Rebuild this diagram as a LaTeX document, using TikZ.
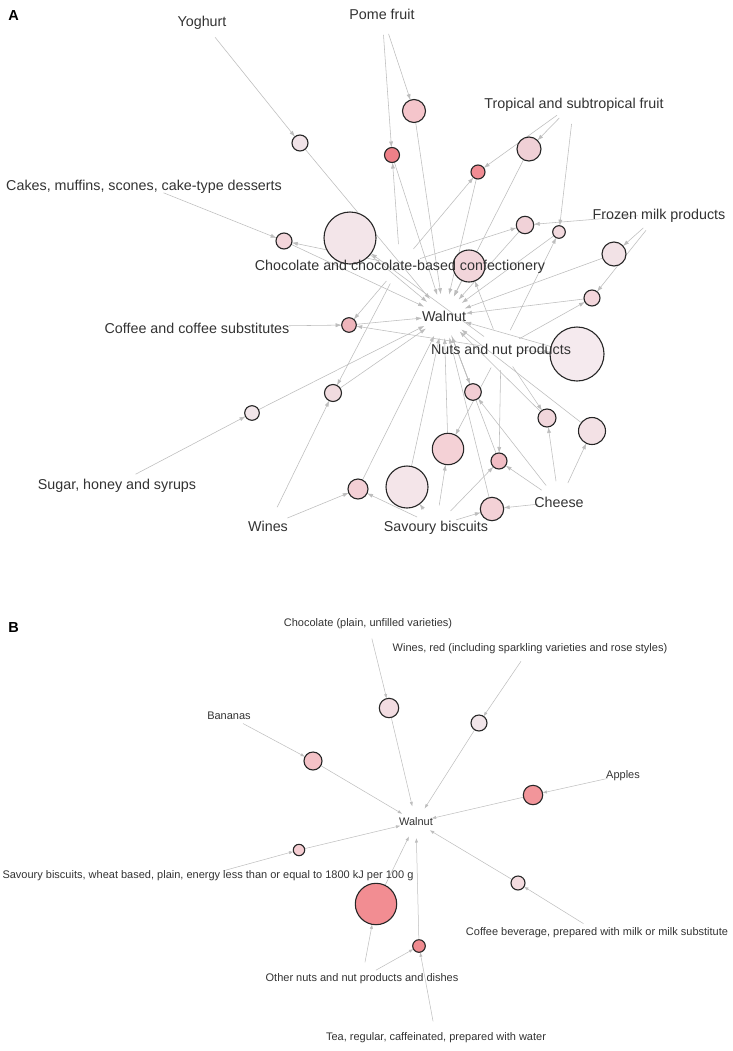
\documentclass[tikz,border=0pt]{standalone}
\usepackage{fontspec}
\setmainfont{Liberation Sans}
\usetikzlibrary{arrows.meta}
\pgfdeclarelayer{edgelayer}
\pgfsetlayers{edgelayer,main}
\definecolor{edgegray}{HTML}{BDBDBD}
\definecolor{labgray}{HTML}{333333}
\definecolor{ringc}{HTML}{262626}
\definecolor{ca1}{HTML}{F1E3E8}
\definecolor{ca2}{HTML}{F5C5CB}
\definecolor{ca3}{HTML}{EE8088}
\definecolor{ca4}{HTML}{F0D0D6}
\definecolor{ca5}{HTML}{F08C93}
\definecolor{ca6}{HTML}{F3E5E9}
\definecolor{ca7}{HTML}{F3D6DB}
\definecolor{ca8}{HTML}{F1D2D8}
\definecolor{ca9}{HTML}{F2D9DE}
\definecolor{ca10}{HTML}{F2D5DA}
\definecolor{ca11}{HTML}{F2E2E6}
\definecolor{ca12}{HTML}{F3D6DB}
\definecolor{ca13}{HTML}{F5EAEE}
\definecolor{ca14}{HTML}{EEB5BB}
\definecolor{ca15}{HTML}{F2E6EA}
\definecolor{ca16}{HTML}{F1DBDF}
\definecolor{ca17}{HTML}{F2CDD3}
\definecolor{ca18}{HTML}{F1D6DB}
\definecolor{ca19}{HTML}{F3E1E5}
\definecolor{ca20}{HTML}{F4D1D6}
\definecolor{ca21}{HTML}{F1BDC4}
\definecolor{ca22}{HTML}{F4E5E9}
\definecolor{ca23}{HTML}{F3CFD5}
\definecolor{ca24}{HTML}{F3D1D6}
\definecolor{cbBan}{HTML}{F4C2C7}
\definecolor{cbCho}{HTML}{F2DCE1}
\definecolor{cbWin}{HTML}{F1E5E9}
\definecolor{cbApp}{HTML}{F2959A}
\definecolor{cbSav}{HTML}{F4CCD1}
\definecolor{cbOth}{HTML}{F28D92}
\definecolor{cbTea}{HTML}{EF8A8F}
\definecolor{cbCof}{HTML}{F3DBDF}
\begin{document}
\begin{tikzpicture}[x=1bp,y=-1bp,
  rulenode/.style={circle, draw=ringc, line width=1.1bp, inner sep=0pt, outer sep=0pt},
  edgebase/.style={draw=edgegray, line width=0.55bp, -{Latex[length=6bp,width=4bp]}},
  fromitem/.style={edgebase, shorten <=21bp},
  towal/.style={edgebase, shorten >=22bp},
  edgebaseB/.style={draw=edgegray, line width=0.5bp, -{Latex[length=4.5bp,width=3.2bp]}},
  fromitemB/.style={edgebaseB, shorten <=16bp},
  towalB/.style={edgebaseB, shorten >=16bp},
  labA/.style={text=labgray, font=\fontsize{14.3bp}{16bp}\selectfont, inner sep=0pt, text height=10.3bp, text depth=0pt},
  labB/.style={text=labgray, font=\fontsize{11bp}{13bp}\selectfont, inner sep=0pt, text height=7.9bp, text depth=0pt},
  panel/.style={text=black, font=\fontsize{14.5bp}{16bp}\selectfont\bfseries, inner sep=0pt, text height=10.4bp, text depth=0pt}
]
\useasboundingbox (0,0) rectangle (733,1051);
\begin{pgfonlayer}{edgelayer}
\fill[white] (0,0) rectangle (733,1051);
\end{pgfonlayer}

% ---------------- Panel A ----------------
\coordinate (vYog) at (202,21);
\coordinate (vPome) at (382,14);
\coordinate (vTrop) at (574,103);
\coordinate (vCake) at (144,185);
\coordinate (vFroz) at (659,214);
\coordinate (vChoc) at (400,265);
\coordinate (vCoff) at (268,326);
\coordinate (vWal) at (444,316);
\coordinate (vNuts) at (501,349);
\coordinate (vSug) at (117,484);
\coordinate (vWine) at (268,526);
\coordinate (vSav) at (436,526);
\coordinate (vChe) at (559,502);

\node[rulenode, minimum size=16bp, fill=ca1] (a1) at (300,143) {};
\node[rulenode, minimum size=23bp, fill=ca2] (a2) at (414,111) {};
\node[rulenode, minimum size=15bp, fill=ca3] (a3) at (392,155) {};
\node[rulenode, minimum size=24bp, fill=ca4] (a4) at (529,149) {};
\node[rulenode, minimum size=14bp, fill=ca5] (a5) at (478,172) {};
\node[rulenode, minimum size=52bp, fill=ca6] (a6) at (350,238) {};
\node[rulenode, minimum size=16bp, fill=ca7] (a7) at (284,241) {};
\node[rulenode, minimum size=17.4bp, fill=ca8] (a8) at (525,225) {};
\node[rulenode, minimum size=12.6bp, fill=ca9] (a9) at (559,232) {};
\node[rulenode, minimum size=32bp, fill=ca10] (a10) at (469,266) {};
\node[rulenode, minimum size=24bp, fill=ca11] (a11) at (614,254) {};
\node[rulenode, minimum size=16bp, fill=ca12] (a12) at (592,298) {};
\node[rulenode, minimum size=54bp, fill=ca13] (a13) at (577,354) {};
\node[rulenode, minimum size=14.6bp, fill=ca14] (a14) at (349,325) {};
\node[rulenode, minimum size=14.6bp, fill=ca15] (a15) at (252,413) {};
\node[rulenode, minimum size=17bp, fill=ca16] (a16) at (333,393) {};
\node[rulenode, minimum size=16.6bp, fill=ca17] (a17) at (473,392) {};
\node[rulenode, minimum size=18bp, fill=ca18] (a18) at (547,418) {};
\node[rulenode, minimum size=27bp, fill=ca19] (a19) at (592,431) {};
\node[rulenode, minimum size=31.4bp, fill=ca20] (a20) at (448,449) {};
\node[rulenode, minimum size=16bp, fill=ca21] (a21) at (499,461) {};
\node[rulenode, minimum size=42bp, fill=ca22] (a22) at (407,487) {};
\node[rulenode, minimum size=20bp, fill=ca23] (a23) at (358,489) {};
\node[rulenode, minimum size=23.4bp, fill=ca24] (a24) at (492,509) {};

\begin{pgfonlayer}{edgelayer}
% items -> rules
\draw[fromitem] (vYog) -- (a1);
\draw[fromitem] (vPome) -- (a2);
\draw[fromitem] (vPome) -- (a3);
\draw[fromitem] (vTrop) -- (a4);
\draw[fromitem] (vTrop) -- (a5);
\draw[fromitem] (vTrop) -- (a9);
\draw[fromitem] (vCake) -- (a7);
\draw[fromitem] (vFroz) -- (a8);
\draw[fromitem] (vFroz) -- (a11);
\draw[fromitem] (vFroz) -- (a12);
\draw[fromitem] (vChoc) -- (a3);
\draw[fromitem] (vChoc) -- (a5);
\draw[fromitem] (vChoc) -- (a7);
\draw[fromitem] (vChoc) -- (a8);
\draw[fromitem] (vChoc) -- (a14);
\draw[fromitem] (vChoc) -- (a16);
\draw[fromitem] (vCoff) -- (a14);
\draw[fromitem] (vSug) -- (a15);
\draw[fromitem] (vWine) -- (a16);
\draw[fromitem] (vWine) -- (a23);
\draw[fromitem] (vSav) -- (a20);
\draw[fromitem] (vSav) -- (a21);
\draw[fromitem] (vSav) -- (a22);
\draw[fromitem] (vSav) -- (a23);
\draw[fromitem] (vSav) -- (a24);
\draw[fromitem] (vChe) -- (a17);
\draw[fromitem] (vChe) -- (a18);
\draw[fromitem] (vChe) -- (a19);
\draw[fromitem] (vChe) -- (a21);
\draw[fromitem] (vChe) -- (a24);
\draw[fromitem] (vNuts) -- (a6);
\draw[fromitem] (vNuts) -- (a9);
\draw[fromitem] (vNuts) -- (a10);
\draw[fromitem] (vNuts) -- (a12);
\draw[fromitem] (vNuts) -- (a13);
\draw[fromitem] (vNuts) -- (a14);
\draw[fromitem] (vNuts) -- (a18);
\draw[fromitem] (vNuts) -- (a20);
\draw[fromitem] (vNuts) -- (a21);
\draw[fromitem] (vWal) -- (a17);
% rules -> Walnut
\foreach \r in {a1,a2,a3,a4,a5,a6,a7,a8,a9,a10,a11,a12,a13,a14,a15,a16,a17,a18,a19,a20,a21,a22,a23,a24}
  \draw[towal] (\r) -- (vWal);
\end{pgfonlayer}

\node[panel] (pA) at (13.5,15) {A};
\node[labA] (tYog) at (vYog) {Yoghurt};
\node[labA] (tPome) at (vPome) {Pome fruit};
\node[labA] (tTrop) at (vTrop) {Tropical and subtropical fruit};
\node[labA] (tCake) at (vCake) {Cakes, muffins, scones, cake-type desserts};
\node[labA] (tFroz) at (vFroz) {Frozen milk products};
\node[labA] (tChoc) at (vChoc) {Chocolate and chocolate-based confectionery};
\node[labA] (tCoff) at (197,328) {Coffee and coffee substitutes};
\node[labA] (tWal) at (vWal) {Walnut};
\node[labA] (tNuts) at (vNuts) {Nuts and nut products};
\node[labA] (tSug) at (vSug) {Sugar, honey and syrups};
\node[labA] (tWine) at (vWine) {Wines};
\node[labA] (tSav) at (vSav) {Savoury biscuits};
\node[labA] (tChe) at (vChe) {Cheese};

% ---------------- Panel B ----------------
\coordinate (vBCho) at (368,623);
\coordinate (vBWin) at (530,648);
\coordinate (vBBan) at (229,716);
\coordinate (vBApp) at (623,775);
\coordinate (vBWal) at (416,822);
\coordinate (vBSav) at (208,875);
\coordinate (vBCof) at (597,932);
\coordinate (vBOth) at (362,978);
\coordinate (vBTea) at (436,1037);

\node[rulenode, minimum size=18bp, fill=cbBan] (bBan) at (313,761) {};
\node[rulenode, minimum size=19.4bp, fill=cbCho] (bCho) at (389,708) {};
\node[rulenode, minimum size=16bp, fill=cbWin] (bWin) at (479,723) {};
\node[rulenode, minimum size=19.4bp, fill=cbApp] (bApp) at (533,795) {};
\node[rulenode, minimum size=11.4bp, fill=cbSav] (bSav) at (299,850) {};
\node[rulenode, minimum size=41.4bp, fill=cbOth] (bOth) at (376,904) {};
\node[rulenode, minimum size=12.6bp, fill=cbTea] (bTea) at (419,946) {};
\node[rulenode, minimum size=14bp, fill=cbCof] (bCof) at (518,883) {};

\begin{pgfonlayer}{edgelayer}
\draw[fromitemB] (vBCho) -- (bCho);
\draw[fromitemB] (vBWin) -- (bWin);
\draw[fromitemB] (vBBan) -- (bBan);
\draw[fromitemB] (vBApp) -- (bApp);
\draw[fromitemB] (vBSav) -- (bSav);
\draw[fromitemB] (vBCof) -- (bCof);
\draw[fromitemB] (vBOth) -- (bOth);
\draw[fromitemB] (vBOth) -- (bTea);
\draw[fromitemB] (vBTea) -- (bTea);
\foreach \r in {bBan,bCho,bWin,bApp,bSav,bOth,bTea,bCof}
  \draw[towalB] (\r) -- (vBWal);
\end{pgfonlayer}

\node[panel] (pB) at (13.5,627) {B};
\node[labB] (tBCho) at (vBCho) {Chocolate (plain, unfilled varieties)};
\node[labB] (tBWin) at (vBWin) {Wines, red (including sparkling varieties and rose styles)};
\node[labB] (tBBan) at (vBBan) {Bananas};
\node[labB] (tBApp) at (vBApp) {Apples};
\node[labB] (tBWal) at (vBWal) {Walnut};
\node[labB] (tBSav) at (vBSav) {Savoury biscuits, wheat based, plain, energy less than or equal to 1800 kJ per 100 g};
\node[labB] (tBCof) at (vBCof) {Coffee beverage, prepared with milk or milk substitute};
\node[labB] (tBOth) at (vBOth) {Other nuts and nut products and dishes};
\node[labB] (tBTea) at (vBTea) {Tea, regular, caffeinated, prepared with water};
\end{tikzpicture}
\end{document}
